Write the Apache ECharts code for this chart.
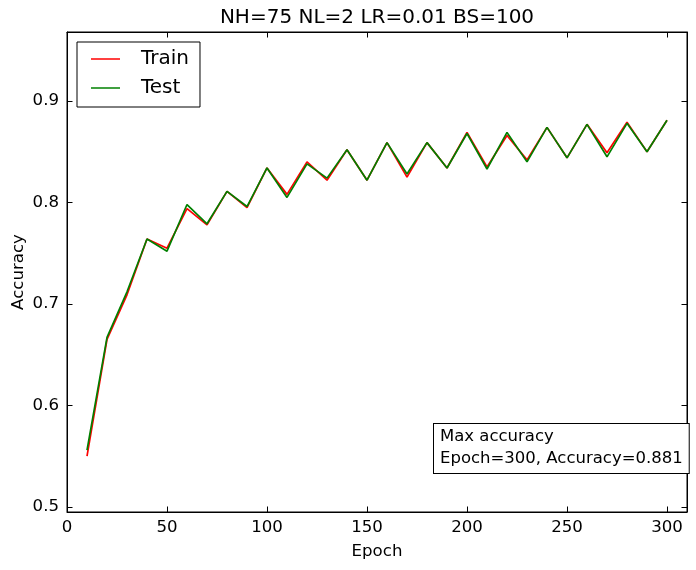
<!DOCTYPE html>
<html>
<head>
<meta charset="utf-8">
<script src="https://cdn.jsdelivr.net/npm/echarts@6/dist/echarts.min.js"></script>
<style>
html,body{margin:0;padding:0;background:#fff;}
#chart{width:696px;height:570px;}
</style>
</head>
<body>
<div id="chart"></div>
<script>
const chartTitle = 'NH=75 NL=2 LR=0.01 BS=100';
const epochs = [10,20,30,40,50,60,70,80,90,100,110,120,130,140,150,160,170,180,190,200,210,220,230,240,250,260,270,280,290,300];
const trainAcc = [0.550,0.665,0.709,0.764,0.755,0.794,0.778,0.811,0.795,0.834,0.808,0.840,0.822,0.852,0.822,0.859,0.825,0.859,0.834,0.869,0.835,0.866,0.842,0.874,0.844,0.877,0.849,0.879,0.850,0.881];
const testAcc  = [0.556,0.667,0.712,0.764,0.752,0.798,0.779,0.811,0.796,0.834,0.805,0.838,0.824,0.852,0.822,0.859,0.828,0.859,0.834,0.868,0.833,0.869,0.840,0.874,0.844,0.877,0.845,0.878,0.850,0.881];
const xTicks = [0,50,100,150,200,250,300];
const yTicks = [0.5,0.6,0.7,0.8,0.9];

const FONT = 'DejaVu Sans';
const FS = 16.6;
const pairs = (xs, ys) => xs.map((x, i) => [x, ys[i]]);

let best = 0;
testAcc.forEach((v, i) => { if (v >= testAcc[best]) best = i; });
const annText = 'Max accuracy\nEpoch=' + epochs[best] + ', Accuracy=' + testAcc[best].toFixed(3);

const chart = echarts.init(document.getElementById('chart'), null, {renderer: 'canvas'});
const tickStyle = {show: true, inside: true, length: 5.5, lineStyle: {color: '#000', width: 1}};
const lineAx = {show: true, onZero: false, lineStyle: {color: '#000', width: 1}};

chart.setOption({
  animation: false,
  backgroundColor: '#fff',
  grid: {left: 67, right: 9, top: 32, bottom: 58, containLabel: false, outerBoundsMode: 'none',
         show: true, borderColor: '#000', borderWidth: 1},
  xAxis: [
    {type: 'value', min: 0, max: 310, position: 'bottom',
     name: 'Epoch', nameLocation: 'middle', nameGap: 31, nameMoveOverlap: false,
     nameTextStyle: {fontFamily: FONT, fontSize: FS, color: '#000'},
     axisLine: lineAx,
     axisTick: Object.assign({customValues: xTicks}, tickStyle),
     axisLabel: {customValues: xTicks, fontFamily: FONT, fontSize: FS, color: '#000', margin: 7},
     splitLine: {show: false}},
    {type: 'value', min: 0, max: 310, position: 'top',
     axisLine: lineAx,
     axisTick: Object.assign({customValues: xTicks}, tickStyle),
     axisLabel: {show: false}, splitLine: {show: false}}
  ],
  yAxis: [
    {type: 'value', min: 0.495, max: 0.968, position: 'left',
     name: 'Accuracy', nameLocation: 'middle', nameGap: 40, nameRotate: 90, nameMoveOverlap: false,
     nameTextStyle: {fontFamily: FONT, fontSize: FS, color: '#000'},
     axisLine: lineAx,
     axisTick: Object.assign({customValues: yTicks}, tickStyle),
     axisLabel: {customValues: yTicks, fontFamily: FONT, fontSize: FS, color: '#000', margin: 8,
                 formatter: v => v.toFixed(1)},
     splitLine: {show: false}},
    {type: 'value', min: 0.495, max: 0.968, position: 'right',
     axisLine: lineAx,
     axisTick: Object.assign({customValues: yTicks}, tickStyle),
     axisLabel: {show: false}, splitLine: {show: false}}
  ],
  legend: {
    show: true,
    orient: 'vertical', left: 77, top: 42,
    borderColor: '#000', borderWidth: 1, borderRadius: 0,
    backgroundColor: '#fff',
    padding: [7, 11, 9, 14],
    itemWidth: 29, itemHeight: 1.5, itemGap: 9,
    icon: 'rect',
    textStyle: {fontFamily: FONT, fontSize: 20, color: '#000', padding: [0, 0, 0, 16]},
    data: ['Train', 'Test']
  },
  series: [
    {name: 'Train', type: 'line', xAxisIndex: 0, yAxisIndex: 0, data: pairs(epochs, trainAcc),
     symbol: 'none', color: '#ff0000', lineStyle: {color: '#ff0000', width: 1.7}, z: 2},
    {name: 'Test', type: 'line', xAxisIndex: 0, yAxisIndex: 0, data: pairs(epochs, testAcc),
     symbol: 'none', color: '#008000', lineStyle: {color: '#008000', width: 1.7}, z: 3}
  ],
  graphic: [
    {type: 'text', x: 377, y: 18, z: 10,
     style: {text: chartTitle, font: '20px "DejaVu Sans"', fill: '#000',
             textAlign: 'center', textVerticalAlign: 'middle'}},
    {type: 'text', x: 434, y: 424, z: 10,
     style: {text: annText, font: '16.5px "DejaVu Sans"', fill: '#000', lineHeight: 21.5,
             backgroundColor: '#fff', borderColor: '#000', borderWidth: 1,
             padding: [2, 6, 4, 6], textAlign: 'left', textVerticalAlign: 'top'}}
  ]
});
</script>
</body>
</html>
